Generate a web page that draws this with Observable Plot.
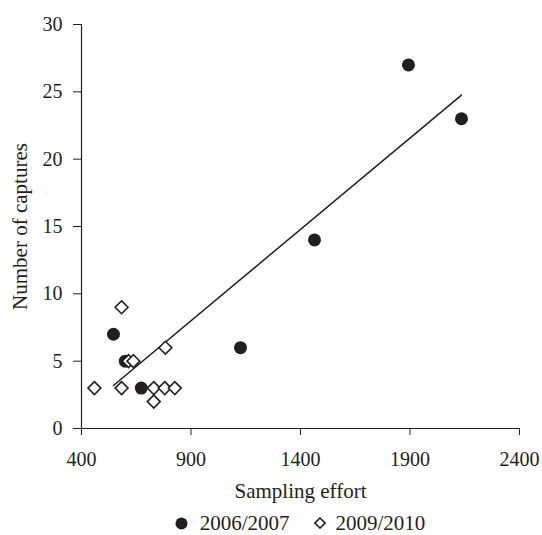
<!DOCTYPE html>
<html>
<head>
<meta charset="utf-8">
<script src="https://cdn.jsdelivr.net/npm/d3@7"></script>
<script src="https://cdn.jsdelivr.net/npm/@observablehq/plot@0.6"></script>
<style>
  body { margin: 0; background: #fff; font-family: "Liberation Serif", "DejaVu Serif", serif; color: #231f20; overflow: hidden; }
  #legend { display: flex; justify-content: center; align-items: center; height: 22px; line-height: 21px; padding-left: 81px; padding-right: 23px; font-size: 21px; }
  #legend .item { display: flex; align-items: center; }
  #legend .item + .item { margin-left: 24px; }
</style>
</head>
<body>
<div id="chart"></div>
<div id="legend">
  <span class="item"><svg width="13" height="13" style="margin-right:12px"><circle cx="6.5" cy="6.5" r="6" fill="#231f20"/></svg>2006/2007</span>
  <span class="item"><svg width="12" height="12" style="margin-right:10px"><path d="M6,1L11,6L6,11L1,6Z" fill="#fff" stroke="#231f20" stroke-width="1.6"/></svg>2009/2010</span>
</div>
<script>
// 2006/2007 (filled circles)
const effort0607 = [546, 600, 673, 1126, 1464, 1893, 2135];
const captures0607 = [7, 5, 3, 6, 14, 27, 23];
// 2009/2010 (open diamonds)
const effort0910 = [459, 583, 583, 615, 637, 783, 730, 780, 826, 730];
const captures0910 = [3, 9, 3, 5, 5, 6, 3, 3, 3, 2];
const xTicks = [400, 900, 1400, 1900, 2400];
const yTicks = [0, 5, 10, 15, 20, 25, 30];

const s1 = effort0607.map((x, i) => ({x, y: captures0607[i]}));
const s2 = effort0910.map((x, i) => ({x, y: captures0910[i]}));
const ink = "#231f20";
const serif = "'Liberation Serif', 'DejaVu Serif', serif";

const chart = Plot.plot({
  width: 542,
  height: 512,
  marginLeft: 81,
  marginRight: 23,
  marginTop: 24,
  marginBottom: 84,
  style: {fontFamily: serif, fontSize: "20px", color: ink, background: "#fff"},
  x: {domain: [400, 2400]},
  y: {domain: [0, 30]},
  marks: [
    Plot.axisX({ticks: xTicks, tickSize: 7, tickPadding: 16, label: null, stroke: ink, fill: ink, fontSize: 20, fontFamily: serif, tickFormat: d => String(d)}),
    Plot.axisY({ticks: yTicks, tickSize: 8, tickPadding: 11, label: null, stroke: ink, fill: ink, fontSize: 20, fontFamily: serif}),
    Plot.ruleY([0], {stroke: ink, strokeWidth: 1.2}),
    Plot.ruleX([400], {stroke: ink, strokeWidth: 1.2}),
    Plot.linearRegressionY(s1, {x: "x", y: "y", ci: 0, stroke: ink, strokeWidth: 1.5}),
    Plot.dot(s1, {x: "x", y: "y", r: 6.5, fill: ink, stroke: "none"}),
    Plot.dot(s2, {x: "x", y: "y", r: 5.8, symbol: "diamond2", fill: "#fff", stroke: ink, strokeWidth: 1.6}),
    Plot.text(["Sampling effort"], {frameAnchor: "bottom", textAnchor: "middle", lineAnchor: "middle", dy: 63, fontSize: 21, fontFamily: serif, fill: ink}),
    Plot.text(["Number of captures"], {frameAnchor: "left", textAnchor: "middle", lineAnchor: "middle", dx: -61, rotate: -90, fontSize: 21, fontFamily: serif, fill: ink})
  ]
});
document.getElementById("chart").append(chart);
</script>
</body>
</html>
